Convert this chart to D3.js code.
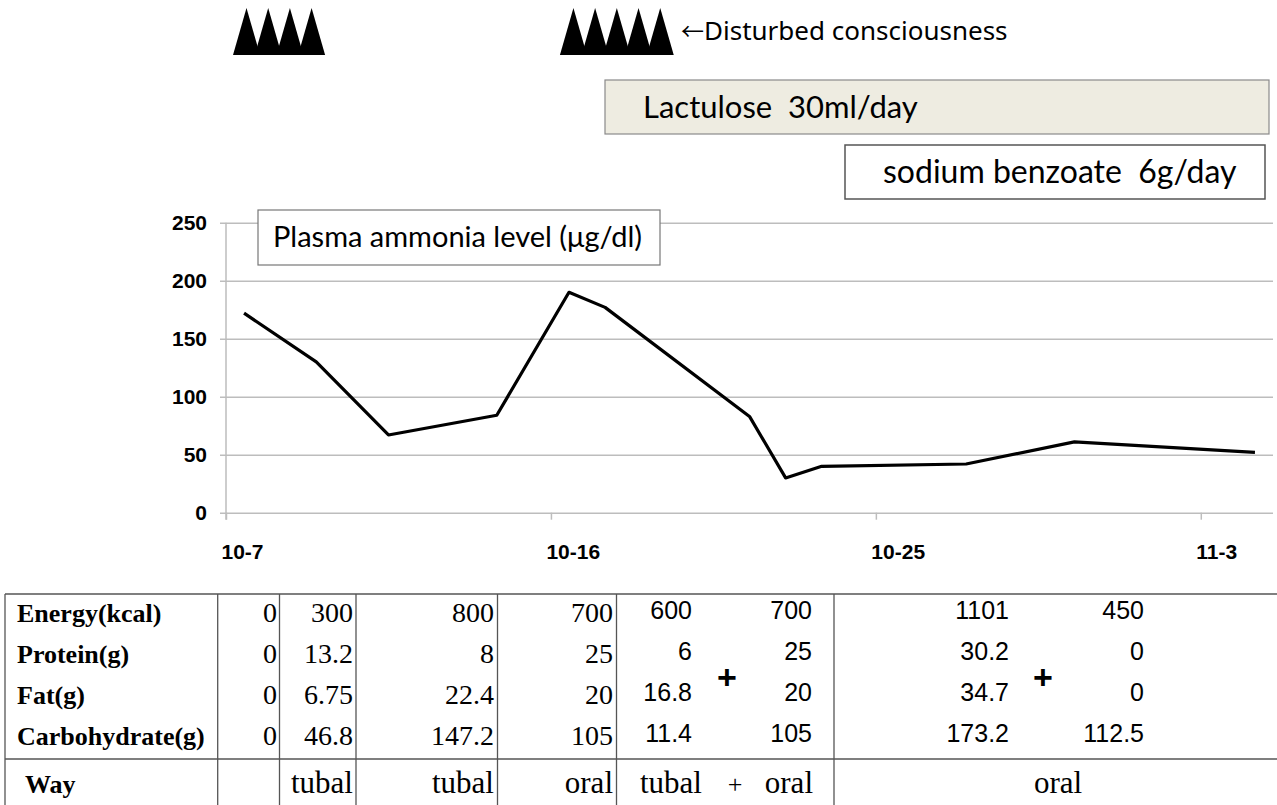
<!DOCTYPE html>
<html>
<head>
<meta charset="utf-8">
<script src="https://cdn.jsdelivr.net/npm/d3@7"></script>
<style>
  html, body { margin: 0; padding: 0; background: #fff; }
  svg { display: block; }
</style>
</head>
<body>
<svg id="chart" width="1277" height="805"></svg>
<script>
// ---------------- DATA ----------------
const dates = ["10-7","10-9","10-11","10-14","10-16","10-17","10-21","10-22","10-23","10-27","10-30","11-4"];
const ammonia = [172, 130, 67, 84, 190, 177, 83, 30, 40, 42, 61, 52];
const xTickLabels = ["10-7", "10-16", "10-25", "11-3"];
const yTicks = [0, 50, 100, 150, 200, 250];

const episodeStarts = ["10-7", "10-16"];
const episodeCounts = [4, 5];

const treatmentLabels = ["Lactulose  30ml/day", "sodium benzoate  6g/day"];
const chartTitle = "Plasma ammonia level (\u03bcg/dl)";
const consciousnessArrow = "\u2190";
const consciousnessLabel = "Disturbed consciousness";

const nutrientLabels = ["Energy(kcal)", "Protein(g)", "Fat(g)", "Carbohydrate(g)"];
const colDay0 = ["0", "0", "0", "0"];
const colTubal1 = ["300", "13.2", "6.75", "46.8"];
const colTubal2 = ["800", "8", "22.4", "147.2"];
const colOral1 = ["700", "25", "20", "105"];
const colMixTubal = ["600", "6", "16.8", "11.4"];
const colMixOral = ["700", "25", "20", "105"];
const colOral2a = ["1101", "30.2", "34.7", "173.2"];
const colOral2b = ["450", "0", "0", "112.5"];
const wayLabel = "Way";
const wayValues = ["", "tubal", "tubal", "oral", "tubal", "oral", "oral"];

// ---------------- SETUP ----------------
const svg = d3.select("#chart");
const YEAR = 2013;
const parseMD = s => { const [m, d] = s.split("-").map(Number); return new Date(YEAR, m - 1, d); };
const mid = s => d3.timeHour.offset(parseMD(s), 12);

const x = d3.scaleTime().domain([parseMD("10-7"), parseMD("11-5")]).range([226, 1273]);
const y = d3.scaleLinear().domain([0, 250]).range([512.7, 222.7]);

const sans = "Lato, 'Noto Sans', sans-serif";
const axisFont = "'Liberation Sans', Arial, sans-serif";
const serif = "'Liberation Serif', 'Times New Roman', serif";

// ---------------- TOP ANNOTATIONS ----------------
const triW = 27, triStep = 21.7, triTop = 8, triBase = 55;
episodeStarts.forEach((s, gi) => {
  const x0 = x(parseMD(s)) + 7 + gi * 2;
  const g = svg.append("g");
  g.selectAll("path").data(d3.range(episodeCounts[gi])).join("path")
    .attr("d", i => {
      const l = x0 + i * triStep;
      return `M${l},${triBase}L${l + triW / 2},${triTop}L${l + triW},${triBase}Z`;
    })
    .attr("fill", "#000");
});
const cons = svg.append("text")
  .attr("x", 681).attr("y", 40)
  .attr("font-family", "'Noto Sans', sans-serif").attr("font-size", 26)
  .attr("fill", "#000");
cons.append("tspan").attr("font-family", "'Noto Sans CJK JP', sans-serif").attr("font-size", 23).text(consciousnessArrow);
cons.append("tspan").text(consciousnessLabel);

// Lactulose box
svg.append("rect").attr("x", 605).attr("y", 80).attr("width", 664).attr("height", 54)
  .attr("fill", "#eeece1").attr("stroke", "#8a8a8a").attr("stroke-width", 1.2);
svg.append("text").attr("x", 643).attr("y", 118)
  .attr("font-family", sans).attr("font-size", 31).attr("fill", "#000")
  .style("white-space", "pre")
  .text(treatmentLabels[0]);

// Sodium benzoate box
svg.append("rect").attr("x", 845).attr("y", 145).attr("width", 420).attr("height", 54)
  .attr("fill", "#fff").attr("stroke", "#555").attr("stroke-width", 1.5);
svg.append("text").attr("x", 883).attr("y", 183)
  .attr("font-family", sans).attr("font-size", 32).attr("fill", "#000")
  .style("white-space", "pre")
  .text(treatmentLabels[1]);

// ---------------- CHART ----------------
const gridColor = "#bdbdbd";
const yAxis = svg.append("g").attr("transform", "translate(220,0)")
  .call(d3.axisLeft(y).tickValues(yTicks).tickSize(-(1273 - 220)).tickPadding(13).tickFormat(d3.format("d")));
yAxis.select(".domain").remove();
yAxis.selectAll(".tick line").attr("stroke", gridColor).attr("stroke-width", 1.5);
yAxis.selectAll(".tick text")
  .attr("font-family", axisFont).attr("font-weight", "bold").attr("font-size", 21).attr("fill", "#000");

// Vertical axis line
svg.append("line").attr("x1", 226).attr("x2", 226).attr("y1", y(250)).attr("y2", y(0) + 7)
  .attr("stroke", gridColor).attr("stroke-width", 1.5);

const xAxis = svg.append("g").attr("transform", `translate(0,${y(0)})`)
  .call(d3.axisBottom(x).tickValues(xTickLabels.map(parseMD)).tickSize(7).tickPadding(24)
    .tickFormat((d, i) => xTickLabels[i]));
xAxis.select(".domain").remove();
xAxis.selectAll(".tick line").attr("stroke", gridColor).attr("stroke-width", 1.5);
xAxis.selectAll(".tick text")
  .attr("text-anchor", "start").attr("dx", -5)
  .attr("font-family", axisFont).attr("font-weight", "bold").attr("font-size", 21).attr("fill", "#000");

// Title box
svg.append("rect").attr("x", 258).attr("y", 210).attr("width", 402).attr("height", 55)
  .attr("fill", "#fff").attr("stroke", "#777").attr("stroke-width", 1.2);
svg.append("text").attr("x", 273).attr("y", 247)
  .attr("font-family", sans).attr("font-size", 29).attr("fill", "#000")
  .text(chartTitle);

// Line
const pts = dates.map((d, i) => ({ date: mid(d), v: ammonia[i] }));
svg.append("path").datum(pts)
  .attr("fill", "none").attr("stroke", "#000").attr("stroke-width", 3.2)
  .attr("stroke-linejoin", "round")
  .attr("d", d3.line().x(d => x(d.date)).y(d => y(d.v)));

// ---------------- TABLE ----------------
const tTop = 594, tMid = 759, tBot = 805;
const vLines = [5, 217.7, 279.5, 356, 497.5, 616.5, 834];
const lineColor = "#555";
const tg = svg.append("g");
tg.selectAll("line.h").data([tTop, tMid]).join("line")
  .attr("x1", 5).attr("x2", 1277).attr("y1", d => d).attr("y2", d => d)
  .attr("stroke", lineColor).attr("stroke-width", 1.3);
tg.selectAll("line.v").data(vLines).join("line")
  .attr("x1", d => d).attr("x2", d => d).attr("y1", tTop).attr("y2", tBot)
  .attr("stroke", lineColor).attr("stroke-width", 1.3);

const rowY = i => 622 + i * 41;
const wayY = 793;

function column(values, xr, font, size, weight, anchor, dy) {
  tg.append("g").selectAll("text").data(values).join("text")
    .attr("x", xr).attr("y", (d, i) => rowY(i) + (dy || 0))
    .attr("text-anchor", anchor || "end")
    .attr("font-family", font).attr("font-size", size)
    .attr("font-weight", weight || "normal").attr("fill", "#000")
    .text(d => d);
}
column(nutrientLabels, 17, serif, 26, "bold", "start");
column(colDay0, 277, serif, 28);
column(colTubal1, 353, serif, 28);
column(colTubal2, 494, serif, 28);
column(colOral1, 613, serif, 28);
column(colMixTubal, 692, axisFont, 25, "normal", "end", -3);
column(colMixOral, 812, axisFont, 25, "normal", "end", -3);
column(colOral2a, 1009, axisFont, 25, "normal", "end", -3);
column(colOral2b, 1144, axisFont, 25, "normal", "end", -3);

// pluses between mixed columns
[727, 1043].forEach(px => {
  tg.append("text").attr("x", px).attr("y", 689).attr("text-anchor", "middle")
    .attr("font-family", axisFont).attr("font-size", 34).attr("font-weight", "bold").text("+");
});

// Way row
tg.append("text").attr("x", 25).attr("y", wayY)
  .attr("font-family", serif).attr("font-size", 26).attr("font-weight", "bold").text(wayLabel);
const wayPos = [null, {x: 353, a: "end"}, {x: 494, a: "end"}, {x: 613, a: "end"},
                {x: 640, a: "start"}, {x: 813, a: "end"}, {x: 1058, a: "middle"}];
wayValues.forEach((w, i) => {
  if (!w) return;
  tg.append("text").attr("x", wayPos[i].x).attr("y", wayY).attr("text-anchor", wayPos[i].a)
    .attr("font-family", serif).attr("font-size", 31).text(w);
});
tg.append("text").attr("x", 735).attr("y", wayY).attr("text-anchor", "middle")
  .attr("font-family", serif).attr("font-size", 26).text("+");
</script>
</body>
</html>
